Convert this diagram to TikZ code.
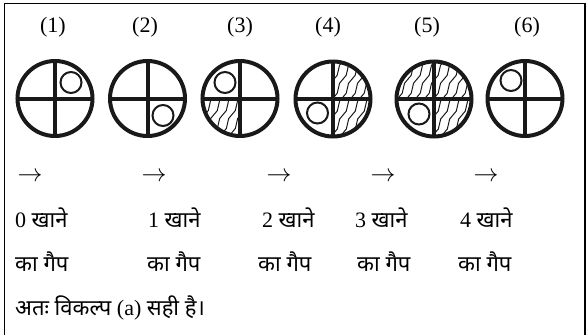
\documentclass[tikz,border=0pt]{standalone}
\usepackage{fontspec}
\setmainfont{Liberation Serif}
\newfontfamily\hindi[Script=Devanagari]{Noto Sans}
\usepackage{tikz}
\usetikzlibrary{decorations.pathmorphing,positioning}
\tikzset{
  disc/.style={line width=4pt,draw=black!90},
  ring/.style={line width=2pt,draw=black!90},
  hatch/.style={line width=1pt,draw=black!90,decorate,
    decoration={snake,amplitude=1.2pt,segment length=20pt}},
  lbl/.style={inner sep=0pt,anchor=base,font=\fontsize{22}{24}\selectfont},
  txt/.style={inner sep=0pt,anchor=base west,font=\fontsize{22}{24}\selectfont}
}
% hatch one quadrant of the wheel at the origin
\newcommand{\qhatch}[1]{%
  \begin{scope}
    \clip (0,0) circle (37.5);
    \clip (0,0) rectangle #1;
    \foreach \o in {-72,-63,...,72}
      \draw[hatch] (\o-22,44) -- (\o+22,-44);
  \end{scope}}
% empty wheel with its cross
\newcommand{\wheel}{%
  \draw[disc] (0,0) circle (37.5);
  \draw[disc] (-37.5,0) -- (37.5,0);
  \draw[disc] (0,-37.5) -- (0,37.5);}
\newcommand{\hi}[1]{{\hindi\fontsize{22}{24}\selectfont #1}}

\begin{document}
\begin{tikzpicture}[x=1pt,y=-1pt]
\useasboundingbox (0,0) rectangle (587,335);
\draw[line width=1.5pt] (4.5,335) -- (4.5,3.5) -- (585,3.5) -- (585,335);
% numbers
\node[lbl] (lab1) at (53,32) {(1)};
\node[lbl] (lab2) at (145,32) {(2)};
\node[lbl] (lab3) at (240,32) {(3)};
\node[lbl] (lab4) at (328,32) {(4)};
\node[lbl] (lab5) at (427,32) {(5)};
\node[lbl] (lab6) at (527,32) {(6)};
% wheels
\begin{scope}[shift={(55,98.5)}]
\wheel
\draw[ring] (16,-16) circle (10.5);
\end{scope}
\begin{scope}[shift={(147.5,98.5)}]
\wheel
\draw[ring] (15.5,17) circle (10.5);
\end{scope}
\begin{scope}[shift={(240,98.5)}]
\qhatch{(-40,40)}
\wheel
\draw[ring] (-15,-16) circle (10.5);
\end{scope}
\begin{scope}[shift={(333,99)}]
\qhatch{(40,-40)}
\qhatch{(40,40)}
\wheel
\draw[ring] (-15.5,14) circle (10.5);
\end{scope}
\begin{scope}[shift={(434,99)}]
\qhatch{(-40,-40)}
\qhatch{(40,-40)}
\qhatch{(40,40)}
\wheel
\draw[ring] (-15,15) circle (10.5);
\end{scope}
\begin{scope}[shift={(525,98.5)}]
\wheel
\draw[ring] (-14,-18) circle (10.5);
\end{scope}
% arrows
\node[lbl,anchor=center,font=\fontsize{24}{24}\selectfont] (arr1) at (30,177) {$\rightarrow$};
\node[lbl,anchor=center,font=\fontsize{24}{24}\selectfont] (arr2) at (154,177) {$\rightarrow$};
\node[lbl,anchor=center,font=\fontsize{24}{24}\selectfont] (arr3) at (279,177) {$\rightarrow$};
\node[lbl,anchor=center,font=\fontsize{24}{24}\selectfont] (arr4) at (383,177) {$\rightarrow$};
\node[lbl,anchor=center,font=\fontsize{24}{24}\selectfont] (arr5) at (486,177) {$\rightarrow$};
% gaps
\node[txt] (gap0) at (15,227) {0 \hi{खाने}};
\node[txt] (gap1) at (148,227) {1 \hi{खाने}};
\node[txt] (gap2) at (262,227) {2 \hi{खाने}};
\node[txt] (gap3) at (355,227) {3 \hi{खाने}};
\node[txt] (gap4) at (460,227) {4 \hi{खाने}};
\node[txt] (ka0) at (15,271) {\hi{का गैप}};
\node[txt] (ka1) at (147,271) {\hi{का गैप}};
\node[txt] (ka2) at (258,271) {\hi{का गैप}};
\node[txt] (ka3) at (357,271) {\hi{का गैप}};
\node[txt] (ka4) at (458,271) {\hi{का गैप}};
\node[txt] (ans) at (15,315) {\hi{अतः विकल्प} (a) \hi{सही है।}};
\end{tikzpicture}
\end{document}
